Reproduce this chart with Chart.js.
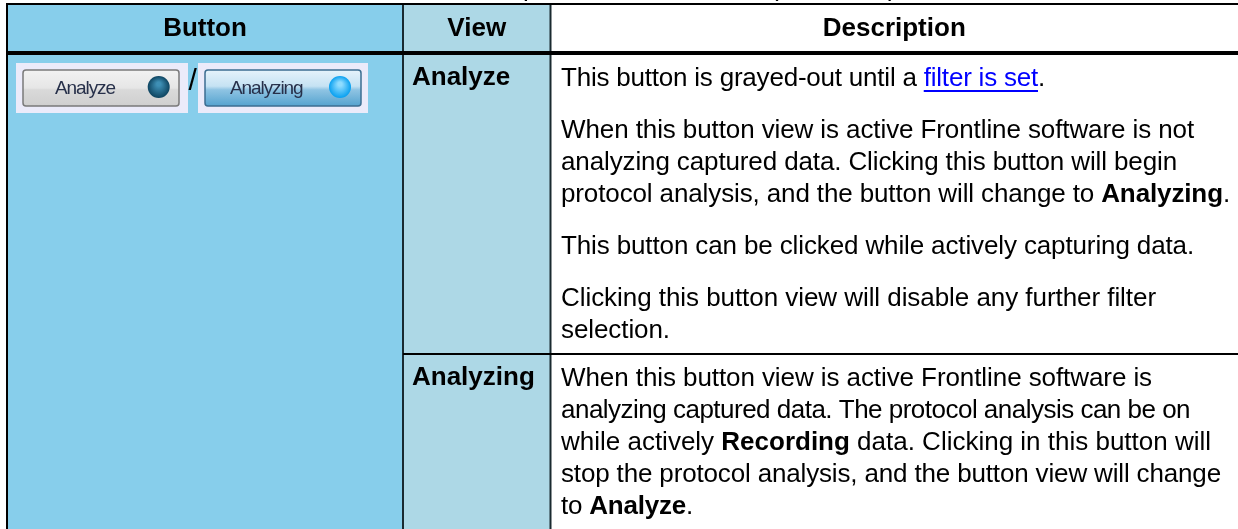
<!DOCTYPE html>
<html lang="en">
<head>
    <meta charset="UTF-8">
    <title>Analyze button table</title>
    <script src="https://cdn.jsdelivr.net/npm/chart.js"></script>
    <style>
        html, body { margin: 0; padding: 0; background: #fff; overflow: hidden; }
        canvas { display: block; }
    </style>
</head>
<body>
    <canvas id="tableChart" width="1238" height="529"></canvas>

    <script>
        // table grid, in picture units
        const columnEdges = [7, 403, 550.5, 1238];
        const rowEdges = [4, 53, 354, 529];
        const columnColors = ['#87CEEB', '#ADD8E6', '#FFFFFF'];
        const columnHeaders = ['Button', 'View', 'Description'];
        const viewNames = ['Analyze', 'Analyzing'];
        const clippedTitleGlyphs = ['p', '(', ')'];

        // description lines: plain text, **bold**, and [link]
        const descriptionLines = [
            'This button is grayed-out until a [filter is set].',
            'When this button view is active Frontline software is not',
            'analyzing captured data. Clicking this button will begin',
            'protocol analysis, and the button will change to **Analyzing**.',
            'This button can be clicked while actively capturing data.',
            'Clicking this button view will disable any further filter',
            'selection.',
            'When this button view is active Frontline software is',
            'analyzing captured data. The protocol analysis can be on',
            'while actively **Recording** data. Clicking in this button will',
            'stop the protocol analysis, and the button view will change',
            'to **Analyze**.'
        ];
        const descriptionBaselines = [86, 138, 170, 202, 254, 306, 338, 386, 418, 450, 482, 514];
        const descriptionWidths = [484, 633, 616, 669, 633, 595, 109, 591, 629, 650, 660, 132];

        const buttonLabels = ['Analyze', 'Analyzing'];

        function rectPoints(x0, x1, y0, y1) {
            return [{x: x0, y: y0}, {x: x1, y: y0}, {x: x1, y: y1}, {x: x0, y: y1}, {x: x0, y: y0}];
        }

        // one filled polygon per column, then the ruling lines on top
        const datasets = [];
        columnColors.forEach((color, i) => {
            datasets.push({
                data: rectPoints(columnEdges[i], columnEdges[i + 1], rowEdges[0], rowEdges[3]),
                backgroundColor: color,
                borderWidth: 0,
                fill: 'shape',
                showLine: true,
                pointRadius: 0,
                order: 10
            });
        });
        const lineWidths = [2, 4, 2];
        rowEdges.slice(0, 3).forEach((y, i) => {
            // the Button cell spans both body rows, so the last rule starts at the View column
            const start = i === 2 ? columnEdges[1] : columnEdges[0] - 1;
            datasets.push({
                data: [{x: start, y: y}, {x: columnEdges[3], y: y}],
                borderColor: '#000',
                borderWidth: lineWidths[i],
                showLine: true,
                pointRadius: 0,
                order: 1
            });
        });
        columnEdges.slice(0, 3).forEach((x, i) => {
            datasets.push({
                data: [{x: x, y: rowEdges[0]}, {x: x, y: rowEdges[3]}],
                borderColor: i === 0 ? '#000' : '#1a2a30',
                borderWidth: 2,
                showLine: true,
                pointRadius: 0,
                order: 2
            });
        });

        const FONT = '"Liberation Sans", Arial, sans-serif';
        const BODY = '26px ' + FONT;
        const BOLD = 'bold 26px ' + FONT;

        function lineParts(text) {
            return text.split(/(\*\*.+?\*\*|\[.+?\])/).filter(p => p).map(part => {
                if (part.startsWith('**')) return {str: part.slice(2, -2), font: BOLD, color: '#000'};
                if (part.startsWith('[')) return {str: part.slice(1, -1), font: BODY, color: '#0000FF', link: true};
                return {str: part, font: BODY, color: '#000'};
            });
        }

        // the original text has tighter spacing on some lines, so fit each line to its width
        function drawDescriptionLine(ctx, text, x, y, width) {
            const parts = lineParts(text);
            ctx.letterSpacing = '0px';
            let total = 0, chars = 0;
            parts.forEach(p => {
                ctx.font = p.font;
                total += ctx.measureText(p.str).width;
                chars += p.str.length;
            });
            ctx.letterSpacing = ((width - total) / chars).toFixed(3) + 'px';
            parts.forEach(p => {
                ctx.font = p.font;
                ctx.fillStyle = p.color;
                ctx.fillText(p.str, x, y);
                const w = ctx.measureText(p.str).width;
                if (p.link) {
                    ctx.fillRect(x, y + 4, w, 2);
                }
                x += w;
            });
            ctx.letterSpacing = '0px';
        }

        function drawButton(ctx, box, btn, led, label, labelX, spacing, stops, edge, ledStops) {
            ctx.fillStyle = '#EBEBFA';
            ctx.fillRect(box[0], 63, box[1] - box[0], 50);
            const g = ctx.createLinearGradient(0, 70, 0, 106);
            stops.forEach(s => g.addColorStop(s[0], s[1]));
            ctx.beginPath();
            ctx.roundRect(btn[0], 70, btn[1] - btn[0], 36, 3);
            ctx.fillStyle = g;
            ctx.fill();
            ctx.strokeStyle = edge;
            ctx.lineWidth = 1.5;
            ctx.stroke();
            const r = ctx.createRadialGradient(led, 84, 2, led, 87, 11);
            r.addColorStop(0, ledStops[0]);
            r.addColorStop(1, ledStops[1]);
            ctx.fillStyle = r;
            ctx.beginPath();
            ctx.arc(led, 87, 11, 0, Math.PI * 2);
            ctx.fill();
            ctx.fillStyle = '#27304a';
            ctx.font = '19px ' + FONT;
            ctx.textAlign = 'left';
            ctx.letterSpacing = spacing;
            ctx.filter = 'blur(0.4px)';
            ctx.fillText(label, labelX, 94);
            ctx.filter = 'none';
            ctx.letterSpacing = '0px';
        }

        const tableText = {
            id: 'tableText',
            afterDatasetsDraw(chart) {
                const ctx = chart.ctx;
                const sx = chart.scales.x, sy = chart.scales.y;
                ctx.save();
                ctx.textBaseline = 'alphabetic';

                // what is left of the title line above the table
                ctx.font = BODY;
                ctx.fillStyle = '#000';
                ctx.textAlign = 'left';
                [523, 770, 888].forEach((x, i) => {
                    ctx.fillText(clippedTitleGlyphs[i], sx.getPixelForValue(x), sy.getPixelForValue(-4));
                });

                ctx.font = BOLD;
                ctx.textAlign = 'center';
                columnHeaders.forEach((h, i) => {
                    const c = (columnEdges[i] + columnEdges[i + 1]) / 2;
                    ctx.fillText(h, sx.getPixelForValue(c), sy.getPixelForValue(35.5));
                });

                ctx.textAlign = 'left';
                viewNames.forEach((v, i) => {
                    ctx.fillText(v, sx.getPixelForValue(412), sy.getPixelForValue(i === 0 ? 85 : 385));
                });

                descriptionLines.forEach((line, i) => {
                    drawDescriptionLine(ctx, line, sx.getPixelForValue(561), sy.getPixelForValue(descriptionBaselines[i]), descriptionWidths[i]);
                });

                drawButton(ctx, [16, 188], [23, 179], 158.7, buttonLabels[0], 55, '-1.1px',
                    [[0, '#F2F2F2'], [0.5, '#E6E6E6'], [0.55, '#D9D9D9'], [1, '#CFCFCF']], '#7A7A7A', ['#3E8FB5', '#0E4460']);
                drawButton(ctx, [198, 368], [205, 361], 340, buttonLabels[1], 230, '-1.1px',
                    [[0, '#E6F3FB'], [0.45, '#C5E2F3'], [0.55, '#8FC4E3'], [1, '#55A3CF']], '#3C6E91', ['#8FDCFF', '#08A0F0']);

                // slash between the two buttons
                ctx.font = '30px ' + FONT;
                ctx.fillStyle = '#000';
                ctx.fillText('/', 188.5, 90);
                ctx.restore();
            }
        };

        new Chart(document.getElementById('tableChart').getContext('2d'), {
            type: 'scatter',
            data: {datasets: datasets},
            plugins: [tableText],
            options: {
                responsive: false,
                animation: false,
                layout: {padding: 0},
                plugins: {legend: {display: false}, tooltip: {enabled: false}, title: {display: false}},
                scales: {
                    x: {type: 'linear', display: false, min: 0, max: 1238},
                    y: {type: 'linear', display: false, min: 0, max: 529, reverse: true}
                }
            }
        });
    </script>
</body>
</html>
